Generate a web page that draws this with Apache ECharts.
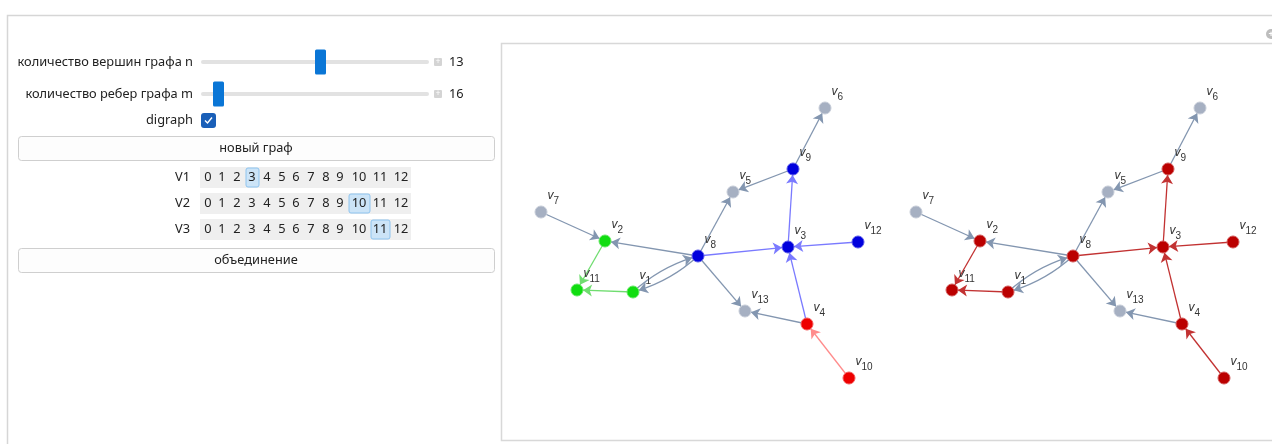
<!DOCTYPE html>
<html><head><meta charset="utf-8">
<script src="https://cdn.jsdelivr.net/npm/echarts@6/dist/echarts.min.js"></script>
<style>html,body{margin:0;padding:0;background:#fff}#c{width:1272px;height:444px}</style>
</head><body><div id="c"></div>
<script>
// ---- data ----
const nodeNames = ['1','2','3','4','5','6','7','8','9','10','11','12','13'];
const nodeX = [0.92, 0.64, 2.47, 2.66, 1.92, 2.84, 0.00, 1.57, 2.52, 3.08, 0.36, 3.17, 2.04];
const nodeY = [0.86, 1.37, 1.31, 0.54, 1.86, 2.70, 1.66, 1.22, 2.09, 0.00, 0.88, 1.36, 0.67];
const edgeSource = ['8','1','7','8','2','1','8','9','9','3','8','12','4','4','8','10'];
const edgeTarget = ['1','8','2','2','11','11','5','5','6','9','3','3','3','13','13','4'];
const edgeCurve  = [0.12,0.12,0,0,0,0,0,0,0,0,0,0,0,0,0,0];
// highlighted group of each node / edge in the left graph ('' = none)
const nodeGroup = ['green','green','blue','red','','','','blue','blue','red','green','blue',''];
const edgeGroup = ['','','','','green','green','','','','blue','blue','blue','blue','','','red'];
const sliderLabels = ['количество вершин графа n','количество ребер графа m'];
const sliderValues = [13, 16];
const checkboxLabel = 'digraph';
const buttonLabels = ['новый граф','объединение'];
const setterLabels = ['V1','V2','V3'];
const setterItems = ['0','1','2','3','4','5','6','7','8','9','10','11','12'];
const setterSelected = [3, 10, 11];

// ---- styles ----
const FONT = 'Noto Sans';
const TFONT = '12.8px ' + FONT;
const GRAY_NODE = '#a6b0c2', GRAY_EDGE = '#8396b0';
const palLeft = {
  green: {node:'#10dd10', edge:'#70dd70'},
  blue:  {node:'#0000dd', edge:'#7a7aff'},
  red:   {node:'#ee0000', edge:'#ff8c8c'}
};
const RED2 = {node:'#bb0000', edge:'#c23232'};

function darker(c){ return echarts.color.lift(c, 0.35); }
function label(n){ return '{v|v}{s|' + n + '}'; }

function buildNodes(colorFn){
  return nodeNames.map((n,i)=>{
    const c = colorFn(nodeGroup[i]);
    return {name:n, value:[nodeX[i], nodeY[i]],
      itemStyle:{color:c, borderColor:darker(c), borderWidth:1},
      label:{formatter: label(n)}};
  });
}
function buildLinks(colorFn){
  return edgeSource.map((s,i)=>({source:s, target:edgeTarget[i],
    lineStyle:{color:colorFn(edgeGroup[i]), curveness:edgeCurve[i]}}));
}
const leftNodeColor = g => g ? palLeft[g].node : GRAY_NODE;
const leftEdgeColor = g => g ? palLeft[g].edge : GRAY_EDGE;
const rightNodeColor = g => g ? RED2.node : GRAY_NODE;
const rightEdgeColor = g => g ? RED2.edge : GRAY_EDGE;

function graphSeries(idx, nodes, links){
  return {
    type:'graph', coordinateSystem:'cartesian2d', xAxisIndex:idx, yAxisIndex:idx,
    symbol:'circle', symbolSize:12,
    edgeSymbol:['none','arrow'], edgeSymbolSize:[0,9],
    data:nodes, links:links,
    lineStyle:{width:1.3, opacity:1},
    label:{show:true, position:'right', distance:0, offset:[0,-14],
      rich:{
        v:{fontFamily:'Liberation Sans', fontStyle:'italic', fontSize:12, color:'#333', lineHeight:16, verticalAlign:'top'},
        s:{fontFamily:'Liberation Sans', fontSize:10, color:'#333', lineHeight:16, verticalAlign:'bottom', padding:[6,0,0,0]}
      }},
    emphasis:{disabled:true}, silent:true, animation:false, z:5
  };
}

// ---- controls as graphic elements ----
const G = [];
G.push({type:'rect', shape:{x:7.5,y:15.5,width:1300,height:460}, style:{fill:'#fff', stroke:'#d6d6d6', lineWidth:1.5}, z:-10});
G.push({type:'rect', shape:{x:501.5,y:43.5,width:800,height:397}, style:{fill:'#fff', stroke:'#d8d8d8', lineWidth:1.5}, z:-9});
G.push({type:'circle', shape:{cx:1271,cy:34,r:5}, style:{fill:'#bdbdbd'}, z:-8});
G.push({type:'text', style:{text:'+', x:1271, y:34, fill:'#fff', font:'bold 9px '+FONT, align:'center', verticalAlign:'middle'}, z:-7});
const sliderY = [62, 94];
const sliderThumbX = [320.5, 218.5];
sliderLabels.forEach((t,i)=>{
  const y = sliderY[i];
  G.push({type:'text', style:{text:t, x:193, y:y, align:'right', verticalAlign:'middle', font:TFONT, fill:'#222'}});
  G.push({type:'rect', shape:{x:201,y:y-2,width:228,height:4,r:2}, style:{fill:'#e2e2e2'}});
  G.push({type:'rect', shape:{x:sliderThumbX[i]-5.5,y:y-12.5,width:11,height:25,r:1.5}, style:{fill:'#0a76d6'}});
  G.push({type:'rect', shape:{x:434,y:y-4,width:8,height:8,r:1}, style:{fill:'#d4d4d4'}});
  G.push({type:'text', style:{text:'+', x:438, y:y, align:'center', verticalAlign:'middle', font:'8px '+FONT, fill:'#fff'}});
  G.push({type:'text', style:{text:String(sliderValues[i]), x:449, y:y, align:'left', verticalAlign:'middle', font:TFONT, fill:'#222'}});
});
G.push({type:'text', style:{text:checkboxLabel, x:193, y:120, align:'right', verticalAlign:'middle', font:TFONT, fill:'#222'}});
G.push({type:'rect', shape:{x:201,y:113,width:15,height:15,r:3}, style:{fill:'#1a5fb8'}});
G.push({type:'polyline', shape:{points:[[205,120.5],[207.5,123],[212,117.5]]}, style:{stroke:'#fff', lineWidth:1.4, fill:null}});
const buttonY = [136, 248];
buttonLabels.forEach((t,i)=>{
  G.push({type:'rect', shape:{x:18.5,y:buttonY[i]+0.5,width:476,height:24,r:3}, style:{fill:'#fdfdfd', stroke:'#cfcfcf', lineWidth:1}});
  G.push({type:'text', style:{text:t, x:256, y:buttonY[i]+12.5, align:'center', verticalAlign:'middle', font:TFONT, fill:'#222'}});
});
const setterRowY = [177.5, 203.5, 229.5];
const itemX = [208,222,237,252,267,282,296,311,326,340,359,380,401];
const itemW = [13,13,13,13,13,13,13,13,13,13,21,19,19];
setterLabels.forEach((t,r)=>{
  const y = setterRowY[r];
  G.push({type:'text', style:{text:t, x:190, y:y, align:'right', verticalAlign:'middle', font:TFONT, fill:'#222'}});
  G.push({type:'rect', shape:{x:200,y:y-10.5,width:211,height:21}, style:{fill:'#efefef'}});
  setterItems.forEach((it,k)=>{
    if (k === setterSelected[r]) {
      G.push({type:'rect', shape:{x:itemX[k]-itemW[k]/2+0.5,y:y-9.5,width:itemW[k],height:19,r:2}, style:{fill:'#cce4f7', stroke:'#8ec4ef', lineWidth:1}});
    }
    G.push({type:'text', style:{text:it, x:itemX[k], y:y, align:'center', verticalAlign:'middle', font:TFONT, fill:'#222'}});
  });
});

const chart = echarts.init(document.getElementById('c'));
const axX = (i)=>({gridIndex:i, type:'value', min:0, max:3.17, show:false});
const axY = (i)=>({gridIndex:i, type:'value', min:0, max:2.70, show:false});
chart.setOption({
  animation:false,
  grid:[{left:541, top:108, width:317, height:270},{left:916, top:108, width:317, height:270}],
  xAxis:[axX(0), axX(1)], yAxis:[axY(0), axY(1)],
  graphic:G,
  series:[
    graphSeries(0, buildNodes(leftNodeColor), buildLinks(leftEdgeColor)),
    graphSeries(1, buildNodes(rightNodeColor), buildLinks(rightEdgeColor))
  ]
});
</script></body></html>
